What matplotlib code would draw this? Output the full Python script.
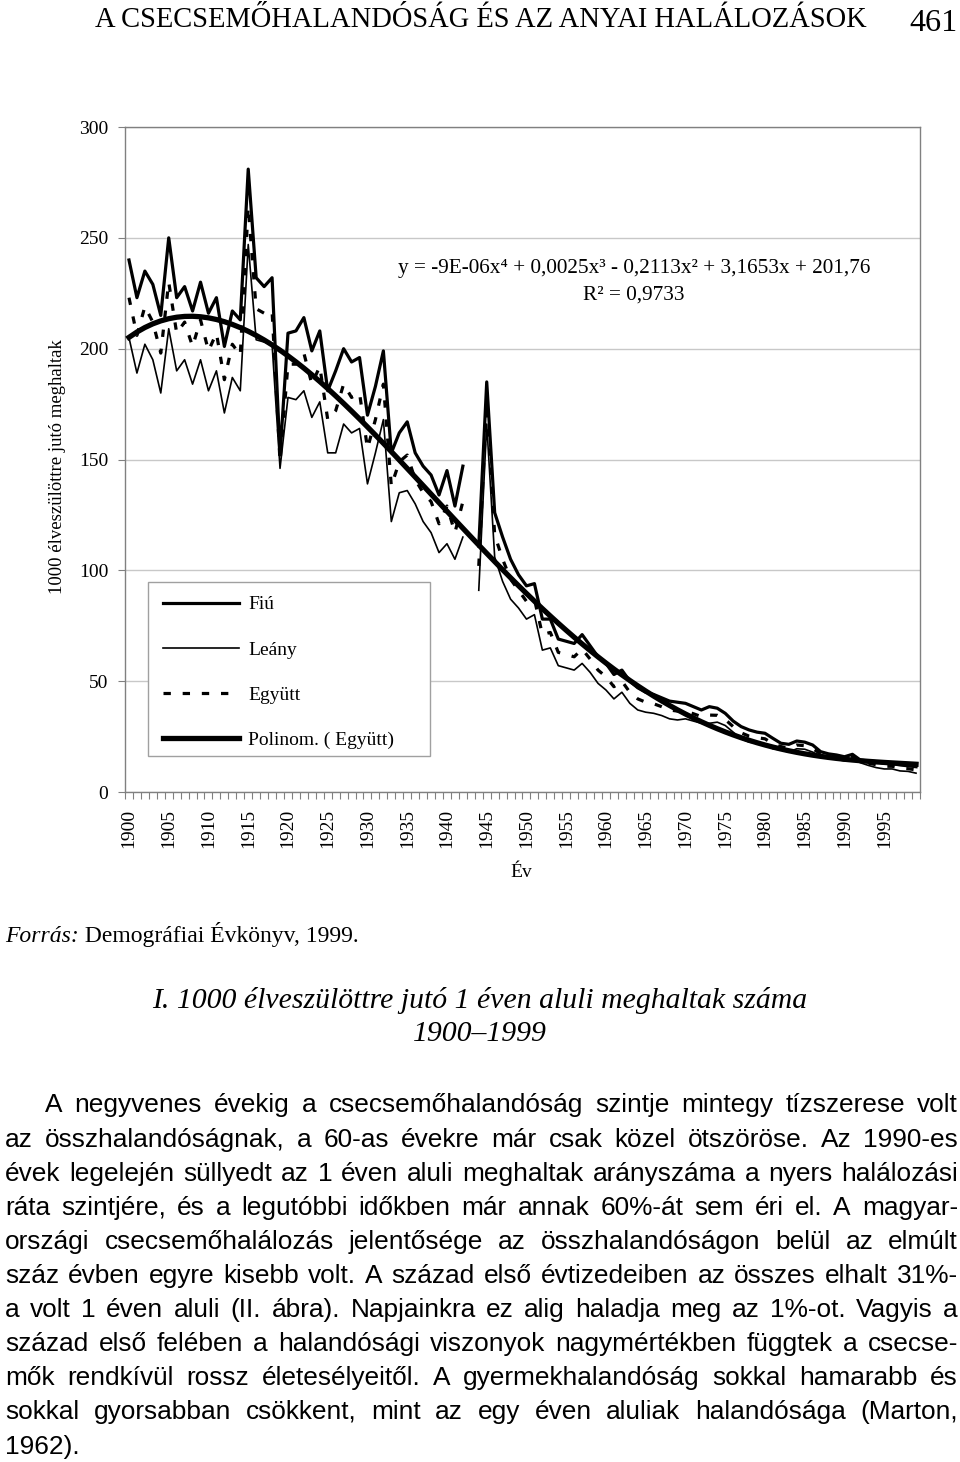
import numpy as np
import matplotlib
matplotlib.use("Agg")
import matplotlib.pyplot as plt
from matplotlib.lines import Line2D
from matplotlib.patches import Rectangle

nan = np.nan
years = list(range(1900, 2000))
tick_years = list(range(1900, 2000, 5))

fiu = [240, 223, 235, 229, 215, 250, 223, 228, 217, 230,
       216, 223, 201, 217, 213, 281, 232, 228, 232, 152,
       207, 208, 214, 199, 208, 181, 190, 200, 194, 196,
       170, 183, 199, 153, 162, 167, 153, 147, 143, 134,
       145, 129, 147, nan, 111, 185, 126, 115, 105, 98,
       93, 94, 78, 78, 69, 68, 67, 71, 66, 61,
       58, 53, 55, 50, 47, 45, 44, 42.5, 41, 40.5,
       40, 38.5, 37, 38.5, 37.8, 35.5, 32, 29.5, 28, 27,
       26.5, 24.2, 22, 21.5, 23, 22.5, 21.2, 18.2, 17.2, 16.7,
       15.9, 17, 14.4, 14, 13.7, 12.9, 12.8, 12.2, 11.8, 11.4]

leany = [205, 189, 202, 195, 180, 209, 190, 195, 184, 195,
         181, 190, 171, 187, 181, 247, 204, 203, 202, 146,
         178, 177, 181, 169, 176, 153, 153, 166, 162, 164,
         139, 153, 168, 122, 135, 136, 130, 122, 117, 108,
         112, 105, 115, nan, 91, 166, 106, 95, 87, 83,
         78, 80, 64, 65, 57, 56, 55, 58, 54, 49,
         46, 42, 45, 40, 37, 36, 35.5, 34.5, 33, 32.5,
         33, 32, 31, 31, 31.5, 30, 27, 24, 22.5, 22,
         21.5, 19.5, 19, 18, 19.5, 19.3, 18, 16.2, 15, 14.8,
         14, 15, 13.2, 12, 11, 10.4, 10.4, 9.5, 9.3, 8.5]

egyutt = [223, 206, 219, 212, 198, 230, 207, 212, 201, 213,
          199, 207, 186, 202, 197, 264, 218, 216, 217, 149,
          193, 193, 198, 184, 192, 168, 172, 184, 178, 180,
          155, 168, 184, 138, 149, 152, 141, 135, 131, 121,
          129, 117, 131, nan, 102, 176, 116, 105, 96, 91,
          86, 87, 71, 72, 63, 62, 61, 64.5, 60, 55,
          52, 47.5, 50, 45, 42, 40.5, 39.8, 38.5, 37, 36.5,
          36.5, 35.3, 34, 34.7, 34.6, 32.7, 29.5, 26.7, 25.2, 24.5,
          24, 21.8, 20.5, 19.7, 21.2, 20.9, 19.6, 17.2, 16.1, 15.7,
          15, 16, 13.8, 13, 12.3, 11.6, 11.6, 10.8, 10.5, 10]

series_labels = ["Fiú", "Leány", "Együtt", "Polinom. ( Együtt)"]
equation = "y = -9E-06x\u2074 + 0,0025x\u00b3 - 0,2113x\u00b2 + 3,1653x + 201,76"
r2_text = "R\u00b2 = 0,9733"
header = "A CSECSEMŐHALANDÓSÁG ÉS AZ ANYAI HALÁLOZÁSOK"
page_no = "461"
ylabel = "1000 élveszülöttre jutó meghaltak"
xlabel = "Év"
source_it = "Forrás:"
source_rest = " Demográfiai Évkönyv, 1999."
title1 = "I. 1000 élveszülöttre jutó 1 éven aluli meghaltak száma"
title2 = "1900–1999"
body_lines = [
    "A negyvenes évekig a csecsemőhalandóság szintje mintegy tízszerese volt",
    "az összhalandóságnak, a 60-as évekre már csak közel ötszöröse. Az 1990-es",
    "évek legelején süllyedt az 1 éven aluli meghaltak arányszáma a nyers halálozási",
    "ráta szintjére, és a legutóbbi időkben már annak 60%-át sem éri el. A magyar-",
    "országi csecsemőhalálozás jelentősége az összhalandóságon belül az elmúlt",
    "száz évben egyre kisebb volt. A század első évtizedeiben az összes elhalt 31%-",
    "a volt 1 éven aluli (II. ábra). Napjainkra ez alig haladja meg az 1%-ot. Vagyis a",
    "század első felében a halandósági viszonyok nagymértékben függtek a csecse-",
    "mők rendkívül rossz életesélyeitől. A gyermekhalandóság sokkal hamarabb és",
    "sokkal gyorsabban csökkent, mint az egy éven aluliak halandósága (Marton,",
    "1962).",
]

SERIF = ["Liberation Serif", "DejaVu Serif"]
SANS = ["Liberation Sans", "DejaVu Sans"]

W, H = 960, 1462
fig = plt.figure(figsize=(W / 100, H / 100), dpi=100)
fig.patch.set_facecolor("white")
renderer = fig.canvas.get_renderer()


def fx(px):
    return px / W


def fy(py):
    return 1 - py / H


def width_of(t):
    return t.get_window_extent(renderer).width


def fit(t, width_px):
    t.set_fontsize(t.get_fontsize() * width_px / width_of(t))


# ---- header ----
t = fig.text(fx(95), fy(27), header, family=SERIF, fontsize=18, va="baseline", ha="left")
fit(t, 773)
t = fig.text(fx(958), fy(31), page_no, family=SERIF, fontsize=22, va="baseline", ha="right")
fit(t, 48)

# ---- chart ----
ax = fig.add_axes([fx(125), fy(792), fx(920) - fx(125), fy(127) - fy(792)])
x = np.array(years, dtype=float)
ax.plot(x, fiu, color="black", lw=2.3, zorder=4)
ax.plot(x, leany, color="black", lw=1.2, zorder=4)
ax.plot(x, egyutt, color="black", lw=2.3, dashes=(2.3, 3.7), zorder=4)

eg = np.array(egyutt, dtype=float)
idx = np.arange(1, len(years) + 1, dtype=float)
ok = ~np.isnan(eg)
coef = np.polyfit(idx[ok], eg[ok], 4)
ax.plot(x, np.polyval(coef, idx), color="black", lw=3.8, zorder=5)

ax.set_xlim(1899.5, 1999.5)
ax.set_ylim(0, 300)
ax.set_yticks(range(0, 301, 50))
ax.grid(axis="y", color="#c8c8c8", lw=1.0)
ax.set_axisbelow(True)
ax.set_xticks(tick_years)
ax.set_xticklabels([str(v) for v in tick_years], rotation=90, family=SERIF, fontsize=14)
ax.set_xticks(np.arange(1899.5, 2000, 1.0), minor=True)
ax.tick_params(axis="x", which="major", length=0, pad=12)
ax.tick_params(axis="x", which="minor", length=5, width=0.8, color="#808080", direction="out")
ax.tick_params(axis="y", length=5, width=0.8, color="#808080", pad=7)
for lab in ax.get_yticklabels():
    lab.set_family(SERIF)
    lab.set_fontsize(14)
for s in ax.spines.values():
    s.set_color("#808080")
    s.set_linewidth(1.0)

t = fig.text(fx(57), fy(467), ylabel, rotation=90, family=SERIF, fontsize=13.5, ha="center", va="center")
fig.text(fx(521), fy(872), xlabel, family=SERIF, fontsize=14, ha="center", va="center")

t = fig.text(fx(634), fy(268), equation, family=SERIF, fontsize=14, ha="center", va="center")
fit(t, 477)
fig.text(fx(634), fy(295), r2_text, family=SERIF, fontsize=t.get_fontsize(), ha="center", va="center")

# legend
rect = Rectangle((fx(148), fy(756)), fx(430) - fx(148), fy(582) - fy(756), transform=fig.transFigure,
                 facecolor="white", edgecolor="#a0a0a0", lw=1.0, zorder=6)
fig.patches.append(rect)
handles = [
    Line2D([], [], color="black", lw=2.3),
    Line2D([], [], color="black", lw=1.2),
    Line2D([], [], color="black", lw=2.3, dashes=(2.3, 3.7)),
    Line2D([], [], color="black", lw=3.8),
]
leg = fig.legend(handles, series_labels, loc="upper left", bbox_to_anchor=(fx(157), fy(590)),
                 bbox_transform=fig.transFigure, frameon=False, prop={"family": SERIF, "size": 14},
                 handlelength=3.9, handletextpad=0.5, labelspacing=1.42, borderpad=0.3, borderaxespad=0)
leg.set_zorder(7)

# ---- source ----
t1 = fig.text(fx(5), fy(942), source_it, family=SERIF, style="italic", fontsize=17, va="baseline")
w1 = width_of(t1)
fig.text(fx(5 + w1), fy(942), source_rest, family=SERIF, fontsize=17, va="baseline")

# ---- figure title ----
t = fig.text(fx(480), fy(1008), title1, family=SERIF, style="italic", fontsize=18, ha="center", va="baseline")
fit(t, 656)
fs_title = t.get_fontsize()
fig.text(fx(480), fy(1041), title2, family=SERIF, style="italic", fontsize=fs_title, ha="center", va="baseline")

# ---- body, justified ----
ref_fs = 17.0
ratios = []
for i, line in enumerate(body_lines[:-1]):
    x0 = 45 if i == 0 else 5
    tt = fig.text(0, 0, line, family=SANS, fontsize=ref_fs)
    ratios.append((958 - x0) / width_of(tt))
    tt.remove()
body_fs = ref_fs * min(ratios) * 0.985

baselines = [1112, 1147, 1181, 1215, 1249, 1283, 1317, 1351, 1385, 1419, 1454]
for i, (line, by) in enumerate(zip(body_lines, baselines)):
    x0 = 45 if i == 0 else 5
    x1 = 958
    words = line.split(" ")
    texts = [fig.text(0, fy(by), w, family=SANS, fontsize=body_fs, va="baseline", ha="left") for w in words]
    widths = [width_of(tt) for tt in texts]
    last = i == len(body_lines) - 1
    if last or len(words) == 1:
        g = 6
    else:
        g = (x1 - x0 - sum(widths)) / (len(words) - 1)
    cur = x0
    for tt, w in zip(texts, widths):
        tt.set_x(fx(cur))
        cur += w + g

fig.savefig("out.png", dpi=100)
